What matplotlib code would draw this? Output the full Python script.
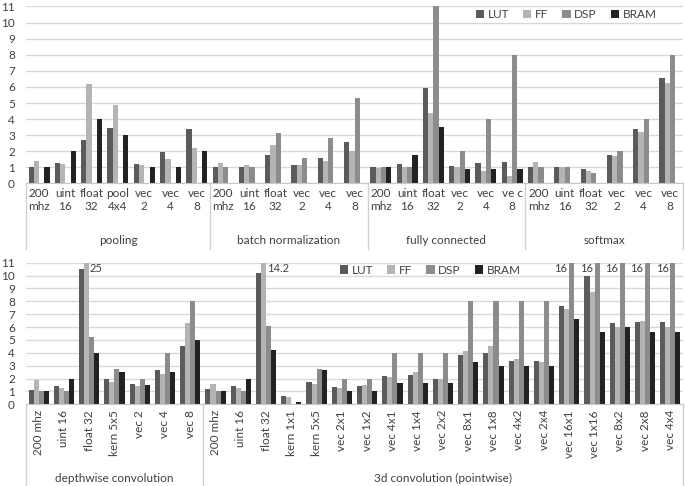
import matplotlib
matplotlib.use('Agg')
import matplotlib.pyplot as plt
import numpy as np

plt.rcParams['font.family'] = ['Lato', 'DejaVu Sans']

series = ['LUT', 'FF', 'DSP', 'BRAM']
colors = ['#5b5b5b', '#b4b4b4', '#8c8c8c', '#222222']

# ---- top panel ----
top_groups = ['pooling', 'batch normalization', 'fully connected', 'softmax']
top_cats = [
    ['200\nmhz', 'uint\n16', 'float\n32', 'pool\n4x4', 'vec\n2', 'vec\n4', 'vec\n8'],
    ['200\nmhz', 'uint\n16', 'float\n32', 'vec\n2', 'vec\n4', 'vec\n8'],
    ['200\nmhz', 'uint\n16', 'float\n32', 'vec\n2', 'vec\n4', 've c\n8'],
    ['200\nmhz', 'uint\n16', 'float\n32', 'vec\n2', 'vec\n4', 'vec\n8'],
]
top_lut = [1.0, 1.3, 2.7, 3.45, 1.2, 1.95, 3.4,
           1.0, 1.0, 1.8, 1.17, 1.57, 2.6,
           1.05, 1.2, 5.95, 1.1, 1.25, 1.35,
           1.0, 1.0, 0.9, 1.8, 3.4, 6.55]
top_ff = [1.4, 1.2, 6.2, 4.9, 1.15, 1.5, 2.2,
          1.25, 1.15, 2.4, 1.12, 1.4, 2.0,
          0.95, 1.0, 4.4, 1.0, 0.8, 0.45,
          1.35, 1.0, 0.8, 1.7, 3.2, 6.25]
top_dsp = [0, 0, 0, 0, 0, 0, 0,
           1.0, 1.05, 3.15, 1.6, 2.85, 5.3,
           1.0, 1.0, 11.0, 2.0, 4.0, 8.0,
           1.0, 1.0, 0.65, 2.0, 4.0, 8.0]
top_bram = [1.0, 2.0, 4.0, 3.0, 1.0, 1.0, 2.0,
            0, 0, 0, 0, 0, 0,
            1.0, 1.8, 3.5, 0.9, 0.9, 0.9,
            0, 0, 0, 0, 0, 0]

# ---- bottom panel ----
bot_groups = ['depthwise convolution', '3d convolution (pointwise)']
bot_cats = [
    ['200 mhz', 'uint 16', 'float 32', 'kern 5x5', 'vec 2', 'vec 4', 'vec 8'],
    ['200 mhz', 'uint 16', 'float 32', 'kern 1x1', 'kern 5x5', 'vec 2x1', 'vec 1x2',
     'vec 4x1', 'vec 1x4', 'vec 2x2', 'vec 8x1', 'vec 1x8', 'vec 4x2', 'vec 2x4',
     'vec 16x1', 'vec 1x16', 'vec 8x2', 'vec 2x8', 'vec 4x4'],
]
bot_lut = [1.1, 1.45, 10.5, 2.0, 1.6, 2.7, 4.5,
           1.15, 1.4, 10.2, 0.65, 1.7, 1.35, 1.4, 2.2, 2.25, 2.0, 3.85, 4.0, 3.4,
           3.35, 7.6, 9.95, 6.35, 6.4, 6.4]
bot_ff = [1.9, 1.3, 25, 1.7, 1.45, 2.35, 6.35,
          1.6, 1.3, 14.2, 0.6, 1.6, 1.25, 1.5, 2.15, 2.5, 1.95, 4.15, 4.55, 3.5,
          3.3, 7.4, 8.7, 6.0, 6.5, 6.0]
bot_dsp = [1.0, 1.0, 5.2, 2.75, 2.0, 4.0, 8.0,
           1.0, 1.0, 6.1, 0.05, 2.75, 2.0, 2.0, 4.0, 4.0, 4.0, 8.0, 8.0, 8.0,
           8.0, 16, 16, 16, 16, 16]
bot_bram = [1.0, 2.0, 4.0, 2.5, 1.5, 2.5, 5.0,
            1.0, 2.0, 4.2, 0.15, 2.65, 1.0, 1.0, 1.65, 1.65, 1.65, 3.3, 3.0, 3.0,
            3.0, 6.65, 5.65, 6.0, 5.65, 5.65]

W, H = 685, 486
fig = plt.figure(figsize=(W / 100, H / 100), dpi=100)
txt = '#404040'
sep = '#d0d0d0'


def panel(rect, groups, cats, vals, rotate, sep_bottom, cat_y, grp_y, legend_xy):
    x0, ytop, x1, yzero = rect
    ax = fig.add_axes([x0 / W, 1 - yzero / H, (x1 - x0) / W, (yzero - ytop) / H])
    n = sum(len(c) for c in cats)
    x = np.arange(n) + 0.5
    offs = [-0.3, -0.1, 0.1, 0.3]
    for s, v, c, o in zip(series, vals, colors, offs):
        ax.bar(x + o, v, width=0.2, color=c, label=s, zorder=3)
    ax.set_xlim(0, n)
    ax.set_ylim(0, 11)
    ax.set_yticks(range(0, 12))
    ax.yaxis.grid(True, color='#d9d9d9', linewidth=1, zorder=0)
    ax.tick_params(axis='y', length=0, labelsize=8.5, labelcolor=txt, pad=8)
    ax.set_xticks([])
    for sp in ['top', 'right', 'left']:
        ax.spines[sp].set_visible(False)
    ax.spines['bottom'].set_color('#c8c8c8')
    ax.spines['bottom'].set_zorder(4)

    trans = ax.get_xaxis_transform()
    # y in axes coords for given pixel y
    def ay(py):
        return (yzero - py) / (yzero - ytop)

    labels = [l for c in cats for l in c]
    for xi, lab in zip(x, labels):
        if rotate:
            ax.text(xi, ay(cat_y), lab, transform=trans, rotation=90, ha='center',
                    va='top', fontsize=8.5, color=txt, clip_on=False)
        else:
            ax.text(xi, ay(cat_y), lab, transform=trans, ha='center', va='top',
                    fontsize=8.5, color=txt, linespacing=1.25, clip_on=False)
    start = 0
    bounds = [0]
    for g, c in zip(groups, cats):
        mid = start + len(c) / 2
        ax.text(mid, ay(grp_y), g, transform=trans, ha='center', va='center',
                fontsize=8.5, color=txt, clip_on=False)
        start += len(c)
        bounds.append(start)
    for b in bounds:
        ax.plot([b, b], [0, ay(sep_bottom)], transform=trans, color=sep,
                linewidth=1, clip_on=False)
    ax.legend(ncol=4, frameon=False, fontsize=8.5, handlelength=0.7, handleheight=0.7,
              handletextpad=0.3, columnspacing=1.2, loc='center',
              bbox_to_anchor=(legend_xy[0] / W, 1 - legend_xy[1] / H),
              bbox_transform=fig.transFigure, labelcolor=txt)
    return ax, x


ax1, x1 = panel((26, 6.5, 683, 183.5), top_groups, top_cats,
                [top_lut, top_ff, top_dsp, top_bram], False, 249, 188, 240, (566, 15))

ax2, x2 = panel((26, 262.7, 683, 404.3), bot_groups, bot_cats,
                [bot_lut, bot_ff, bot_dsp, bot_bram], True, 486, 410, 478, (430, 270))

# value labels for clipped bars
for xi, f, d in zip(x2, bot_ff, bot_dsp):
    if f > 11:
        ax2.text(xi - 0.1 + 0.12, 10.95, f'{f:g}', ha='left', va='top', fontsize=8,
                 color=txt, zorder=5)
    if d > 11:
        ax2.text(xi + 0.1 - 0.17, 10.95, f'{d:g}', ha='right', va='top', fontsize=8,
                 color=txt, zorder=5)

fig.savefig('out.png', dpi=100, facecolor='white')
